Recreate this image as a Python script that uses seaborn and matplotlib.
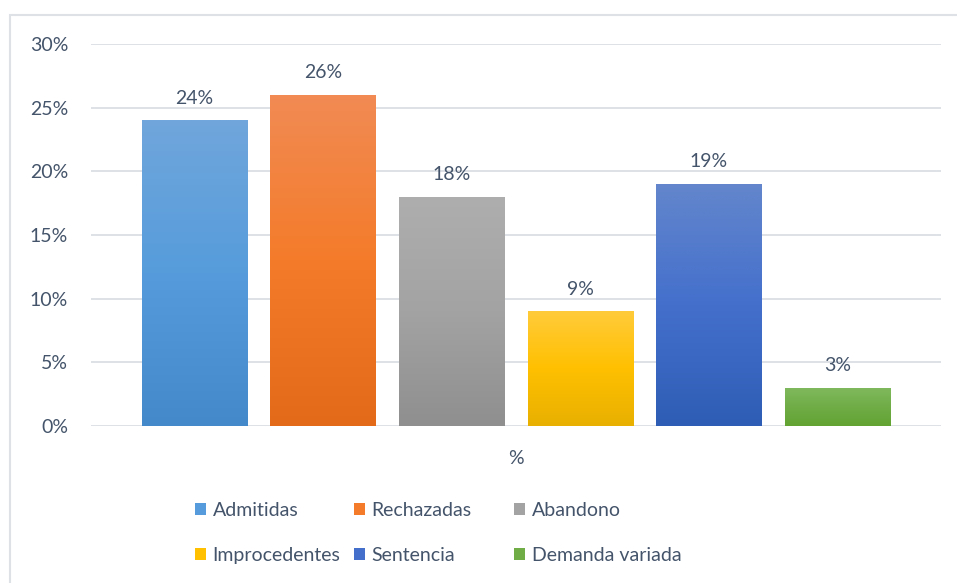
import numpy as np
import pandas as pd
import matplotlib
matplotlib.use("Agg")
import matplotlib.pyplot as plt
from matplotlib.colors import LinearSegmentedColormap
from matplotlib.patches import Rectangle, Patch
from matplotlib.ticker import PercentFormatter
import seaborn as sns

# Data
categories = ["Admitidas", "Rechazadas", "Abandono", "Improcedentes", "Sentencia", "Demanda variada"]
values = [24, 26, 18, 9, 19, 3]
group_label = "%"
y_ticks = [0, 5, 10, 15, 20, 25, 30]

# Gradient stops (top, middle, bottom) per series
gradients = {
    "Admitidas": ["#70A6DB", "#569CDC", "#4489C9"],
    "Rechazadas": ["#F18B54", "#F47B2A", "#E36A18"],
    "Abandono": ["#AEAEAE", "#A3A3A3", "#8F8F8F"],
    "Improcedentes": ["#FFCB3A", "#FFC000", "#E8B000"],
    "Sentencia": ["#6386CC", "#4470CC", "#2E5DB5"],
    "Demanda variada": ["#80B95E", "#70AD47", "#62A332"],
}
mid_colors = [gradients[c][1] for c in categories]

text_color = "#44546A"
grid_color = "#DEE2E7"

sns.set_theme(style="white")
plt.rcParams["font.family"] = ["Lato", "DejaVu Sans"]

df = pd.DataFrame({"grupo": [group_label] * len(categories),
                   "serie": categories,
                   "valor": values})

fig = plt.figure(figsize=(9.57, 5.83), dpi=100)
ax = fig.add_axes([91 / 957, 1 - 426 / 583, 850 / 957, (426 - 44) / 583])

sns.barplot(data=df, x="grupo", y="valor", hue="serie", hue_order=categories,
            palette=mid_colors, width=0.8, gap=0.18, dodge=True,
            legend=False, ax=ax, linewidth=0, saturation=1)

ax.set_xlim(-0.4407, 0.4407)
ax.set_ylim(0, 30)
ax.set_yticks(y_ticks)
ax.yaxis.set_major_formatter(PercentFormatter(decimals=0))
ax.grid(axis="y", color=grid_color, linewidth=1.4)
ax.set_axisbelow(True)
for s in ax.spines.values():
    s.set_visible(False)
ax.set_xlabel("")
ax.set_ylabel("")
ax.tick_params(axis="y", length=0, pad=16.5, labelsize=14, labelcolor=text_color)
ax.tick_params(axis="x", length=0, pad=17, labelsize=14, labelcolor=text_color)

# Gradient fill for each bar, clipped to the bar shape
bars = list(ax.patches)
for bar, name in zip(bars, categories):
    cmap = LinearSegmentedColormap.from_list(name, gradients[name][::-1])
    x0, y0 = bar.get_x(), bar.get_y()
    w, h = bar.get_width(), bar.get_height()
    grad = np.linspace(0, 1, 256).reshape(-1, 1)
    im = ax.imshow(grad, cmap=cmap, origin="lower", aspect="auto",
                   extent=[x0, x0 + w, y0, y0 + h], zorder=bar.get_zorder() + 0.1)
    im.set_clip_path(bar)
ax.set_xlim(-0.4407, 0.4407)
ax.set_ylim(0, 30)

# Value labels
for bar, v in zip(bars, values):
    ax.annotate(f"{v}%", (bar.get_x() + bar.get_width() / 2, v),
                xytext=(0, 10), textcoords="offset points",
                ha="center", va="bottom", fontsize=14, color=text_color)

# Legend: three columns, two rows
handles = [Patch(facecolor=c, edgecolor="none") for c in mid_colors]
col_x = [195 / 957, 354 / 957, 514 / 957]
for i, x in enumerate(col_x):
    idx = [i, i + 3]
    leg = fig.legend([handles[j] for j in idx], [categories[j] for j in idx],
                     loc="upper left", bbox_to_anchor=(x, 1 - 502 / 583),
                     frameon=False, fontsize=14, labelcolor=text_color,
                     handlelength=0.55, handleheight=0.55, handletextpad=0.35,
                     labelspacing=1.42, borderpad=0, borderaxespad=0)

# Chart frame
fig.add_artist(Rectangle((10 / 957, -0.01), 1.05, 1 - 15 / 583 + 0.01,
                         transform=fig.transFigure, fill=False,
                         edgecolor=grid_color, linewidth=1.5))

fig.savefig("out.png", dpi=100)
